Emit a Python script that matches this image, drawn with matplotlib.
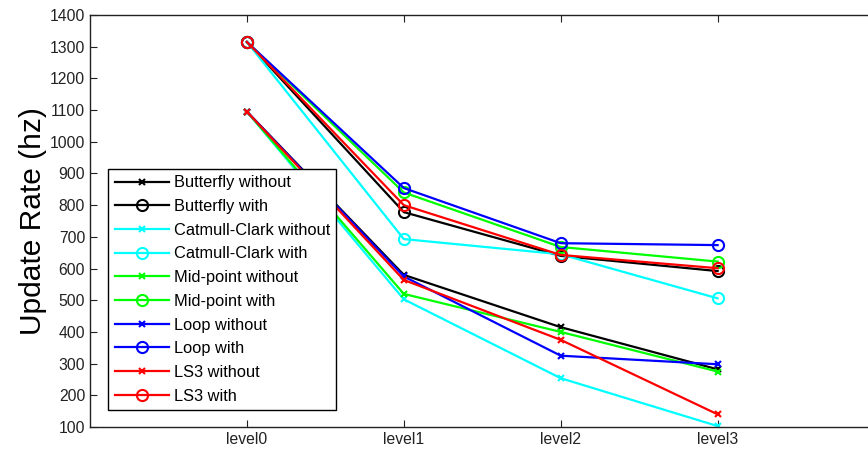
import matplotlib
matplotlib.use("Agg")
import matplotlib.pyplot as plt

# x categories
levels = ["level0", "level1", "level2", "level3"]

# update rates (hz)
butterfly_without = [1095, 580, 415, 282]
butterfly_with = [1315, 778, 640, 592]
catmull_without = [1095, 503, 254, 103]
catmull_with = [1315, 693, 645, 506]
midpoint_without = [1095, 520, 400, 275]
midpoint_with = [1315, 840, 668, 622]
loop_without = [1095, 575, 325, 298]
loop_with = [1315, 854, 680, 674]
ls3_without = [1095, 564, 375, 140]
ls3_with = [1315, 800, 643, 601]

series = [
    ("Butterfly without", butterfly_without, "#000000", "x"),
    ("Butterfly with", butterfly_with, "#000000", "o"),
    ("Catmull-Clark without", catmull_without, "#00ffff", "x"),
    ("Catmull-Clark with", catmull_with, "#00ffff", "o"),
    ("Mid-point without", midpoint_without, "#00ff00", "x"),
    ("Mid-point with", midpoint_with, "#00ff00", "o"),
    ("Loop without", loop_without, "#0000ff", "x"),
    ("Loop with", loop_with, "#0000ff", "o"),
    ("LS3 without", ls3_without, "#ff0000", "x"),
    ("LS3 with", ls3_with, "#ff0000", "o"),
]

plt.rcParams["font.family"] = ["Liberation Sans", "DejaVu Sans"]

fig = plt.figure(figsize=(8.68, 4.51), dpi=100)
ax = fig.add_axes([0.1037, 0.0532, 0.9038, 0.9135])

x = list(range(len(levels)))
for name, vals, col, mk in series:
    ms = 5 if mk == "x" else 8
    ax.plot(x, vals, color=col, marker=mk, markersize=ms, markeredgewidth=1.5,
            markerfacecolor="none", linewidth=1.6, label=name)

ax.set_xlim(-1, 4)
ax.set_ylim(100, 1400)
ax.set_xticks(x)
ax.set_xticklabels(levels)
ax.set_yticks(range(100, 1401, 100))
ax.tick_params(direction="in", top=True, right=True, labelsize=11.3,
               length=5, colors="#222222")
for sp in ax.spines.values():
    sp.set_linewidth(1.0)
    sp.set_color("#222222")

ax.set_ylabel("Update Rate (hz)", fontsize=21.5, labelpad=2)

leg = ax.legend(loc="lower left", bbox_to_anchor=(0.023, 0.041), borderaxespad=0,
                fontsize=11.8, handlelength=3.3, handletextpad=0.3,
                labelspacing=0.53, borderpad=0.4, fancybox=False, framealpha=1)
leg.get_frame().set_edgecolor("black")
leg.get_frame().set_linewidth(1.0)

fig.savefig("out.png", dpi=100)
